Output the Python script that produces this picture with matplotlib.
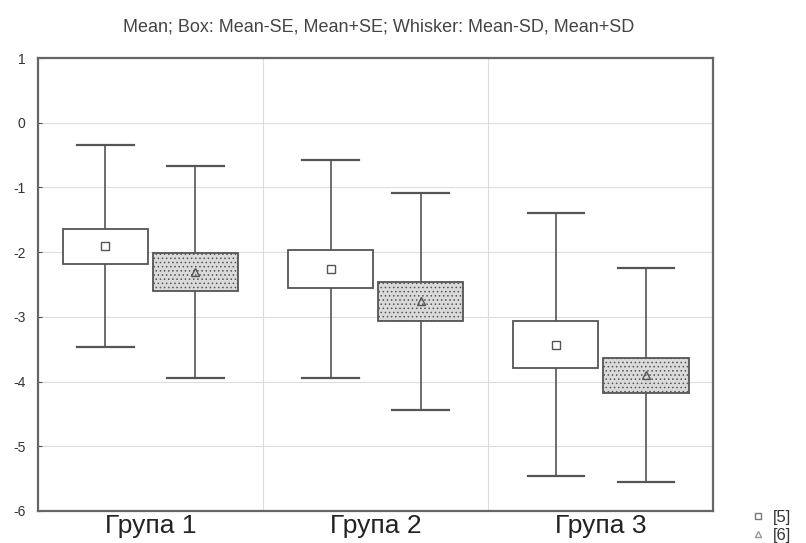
import matplotlib
matplotlib.use("Agg")
import matplotlib.pyplot as plt
from matplotlib.lines import Line2D
import numpy as np

plt.rcParams["font.family"] = ["Liberation Sans", "DejaVu Sans"]
plt.rcParams["axes.unicode_minus"] = False
plt.rcParams["hatch.color"] = "#a8a8a8"
plt.rcParams["hatch.linewidth"] = 0.6

groups = ["Група 1", "Група 2", "Група 3"]
series = ["[5]", "[6]"]
mean_5 = [-1.91, -2.26, -3.43]
se_5 = [0.27, 0.29, 0.36]
sd_5 = [1.56, 1.68, 2.03]
mean_6 = [-2.31, -2.76, -3.90]
se_6 = [0.29, 0.30, 0.27]
sd_6 = [1.64, 1.68, 1.65]

EDGE = "#555555"
GRID = "#dddddd"

fig = plt.figure(figsize=(8.06, 5.43), dpi=100)
ax = fig.add_axes([0.047, 0.059, 0.838, 0.834])

box_w, cap_w = 0.38, 0.25
styles = [
    (mean_5, se_5, sd_5, -0.2, "white", None, "s"),
    (mean_6, se_6, sd_6, 0.2, "#dadada", "....", "^"),
]
for means, ses, sds, off, fc, hatch, mk in styles:
    for i, (m, se, sd) in enumerate(zip(means, ses, sds)):
        x = i + 0.5 + off
        # whiskers: mean +/- SD
        ax.plot([x, x], [m - sd, m + sd], color=EDGE, lw=1.2, zorder=2)
        ax.plot([x - cap_w / 2, x + cap_w / 2], [m + sd, m + sd], color=EDGE, lw=1.6, zorder=2)
        ax.plot([x - cap_w / 2, x + cap_w / 2], [m - sd, m - sd], color=EDGE, lw=1.6, zorder=2)
        # box: mean +/- SE
        rect = plt.Rectangle((x - box_w / 2, m - se), box_w, 2 * se, facecolor=fc,
                             edgecolor=EDGE, lw=1.3, hatch=hatch, zorder=3)
        ax.add_patch(rect)
    xs = np.arange(len(means)) + 0.5 + off
    ax.plot(xs, means, ls="none", marker=mk, ms=6, mfc="none", mec=EDGE, mew=1.0, zorder=4)

ax.set_xlim(0, 3)
ax.set_ylim(-6, 1)
ax.set_yticks(range(-6, 2))
ax.set_xticks([0.5, 1.5, 2.5])
ax.set_xticklabels(groups, fontsize=19)
ax.tick_params(axis="x", length=0, pad=2, labelcolor="#222222")
ax.tick_params(axis="y", direction="in", length=3, labelsize=10, pad=9,
               colors=EDGE, labelcolor="#333333")
for v in range(-5, 1):
    ax.axhline(v, color=GRID, lw=0.8, zorder=0)
for v in (1, 2):
    ax.axvline(v, color=GRID, lw=0.8, zorder=0)
for s in ax.spines.values():
    s.set_color("#666666")
    s.set_linewidth(1.6)

fig.text(0.470, 0.950, "Mean; Box: Mean-SE, Mean+SE; Whisker: Mean-SD, Mean+SD",
         ha="center", va="center", fontsize=13, color="#444444")

handles = [
    Line2D([], [], ls="none", marker="s", ms=5, mfc="none", mec="#777777", mew=1.0),
    Line2D([], [], ls="none", marker="^", ms=5, mfc="none", mec="#999999", mew=1.0),
]
fig.legend(handles, series, loc="lower right", bbox_to_anchor=(1.0, -0.027), frameon=False,
           fontsize=12, handletextpad=0.4, labelspacing=0.15, handlelength=1.0,
           labelcolor="#333333")

fig.savefig("out.png", dpi=100)
